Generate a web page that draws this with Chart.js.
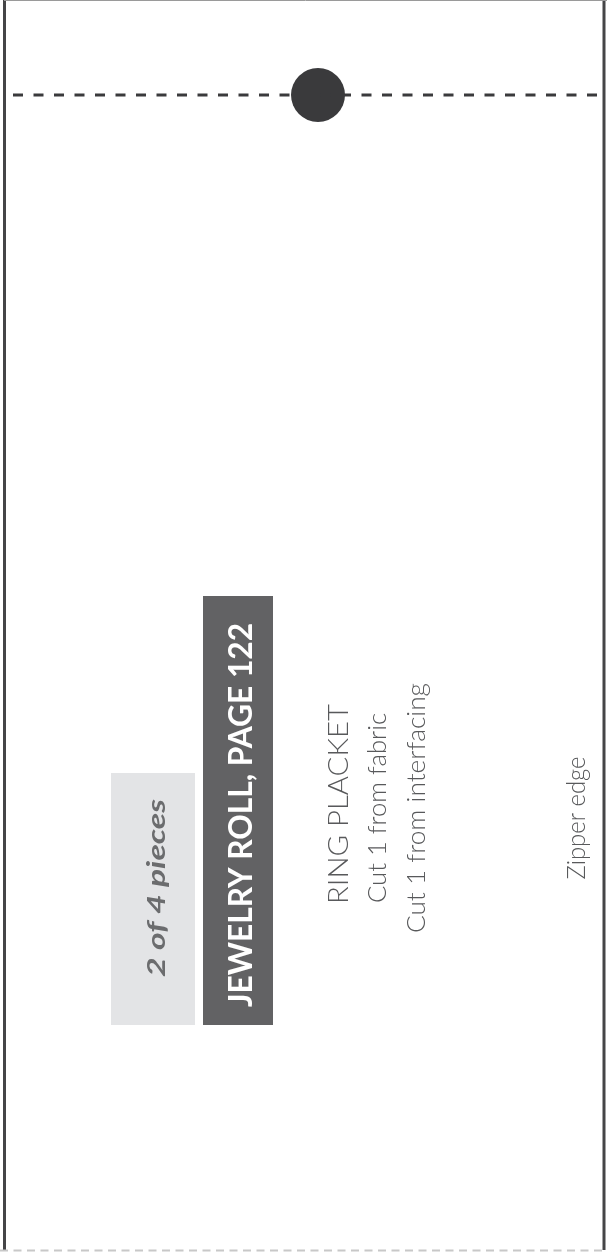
<!DOCTYPE html>
<html><head><meta charset="utf-8">
<script src="https://cdn.jsdelivr.net/npm/chart.js@4"></script>
<style>html,body{margin:0;padding:0;background:#fff;overflow:hidden}canvas{display:block}</style>
</head><body>
<canvas id="c" width="607" height="1253"></canvas>
<script>
// ---- data (pattern-sheet coordinates) ----
const sheetExtentX = [0, 607];
const sheetExtentY = [0, 1253];
const leftEdge = [{x:4.5,y:0},{x:4.5,y:1250}];
const rightEdge = [{x:604,y:0},{x:604,y:1250}];
const topEdge = [{x:4,y:0.5},{x:607,y:0.5}];
const bottomEdge = [{x:0,y:1250.5},{x:607,y:1250.5}];
const foldLine = [{x:13,y:95},{x:603,y:95}];
const hole = [{x:318,y:95}];
const countBox = [{x:111,y:773},{x:195,y:773},{x:195,y:1025},{x:111,y:1025}];
const titleBox = [{x:203,y:596},{x:273,y:596},{x:273,y:1025},{x:203,y:1025}];
const labelTexts = ["2 of 4 pieces","JEWELRY ROLL, PAGE 122","RING PLACKET","Cut 1 from fabric","Cut 1 from interfacing","Zipper edge"];
const labelAnchors = [{x:157,y:888},{x:241,y:815},{x:339,y:804},{x:378,y:808},{x:417,y:808},{x:577,y:818}];

// ---- styles ----
const labelStyles = [
  {font:'italic bold {s}px Lato, "DejaVu Sans", sans-serif', size:25, len:178, color:'#6b6c6e'},
  {font:'bold {s}px Lato, "DejaVu Sans", sans-serif', size:33, len:384, color:'#ffffff'},
  {font:'300 {s}px Lato, "Open Sans", sans-serif', size:27, len:200, color:'#58595b'},
  {font:'300 {s}px Lato, "Open Sans", sans-serif', size:25, len:190, color:'#58595b'},
  {font:'300 {s}px Lato, "Open Sans", sans-serif', size:25, len:250, color:'#58595b'},
  {font:'300 {s}px Lato, "Open Sans", sans-serif', size:25, len:123, color:'#58595b'}
];

const textPlugin = {
  id:'rotText',
  afterDatasetsDraw(chart){
    const ctx = chart.ctx, xs = chart.scales.x, ys = chart.scales.y;
    labelTexts.forEach((t,i)=>{
      const st = labelStyles[i];
      ctx.save();
      ctx.font = st.font.replace('{s}',st.size);
      const w = ctx.measureText(t).width;
      ctx.fillStyle = st.color;
      ctx.textAlign='center'; ctx.textBaseline='middle';
      ctx.translate(xs.getPixelForValue(labelAnchors[i].x), ys.getPixelForValue(labelAnchors[i].y));
      ctx.rotate(-Math.PI/2);
      ctx.scale(st.len/w,1);
      ctx.fillText(t,0,0);
      ctx.restore();
    });
  }
};

const line = (data,color,width,dash)=>({type:'scatter',data,showLine:true,borderColor:color,borderWidth:width,borderDash:dash||[],pointRadius:0,fill:false,borderCapStyle:'butt'});
const shape = (data,color)=>({type:'scatter',data:data.concat([data[0]]),showLine:true,borderColor:color,borderWidth:0,backgroundColor:color,pointRadius:0,fill:'shape',tension:0});

new Chart(document.getElementById('c'),{
  type:'scatter',
  data:{datasets:[
    shape(countBox,'#e3e4e6'),
    shape(titleBox,'#626264'),
    line(topEdge,'#9a9a9a',1),
    line(bottomEdge,'#c8c8c8',2,[8,5.5]),
    line(leftEdge,'#454547',3),
    line(rightEdge,'#454547',3),
    line(foldLine,'#3a3a3c',3,[10,10.5]),
    {type:'scatter',data:hole,pointRadius:27,pointHoverRadius:27,backgroundColor:'#3a3a3c',borderWidth:0}
  ]},
  options:{
    responsive:false,animation:false,
    layout:{padding:0,autoPadding:false},
    plugins:{legend:{display:false},tooltip:{enabled:false}},
    events:[],
    scales:{
      x:{type:'linear',min:sheetExtentX[0],max:sheetExtentX[1],display:false},
      y:{type:'linear',min:sheetExtentY[0],max:sheetExtentY[1],reverse:true,display:false}
    }
  },
  plugins:[textPlugin]
});
</script>
</body></html>
